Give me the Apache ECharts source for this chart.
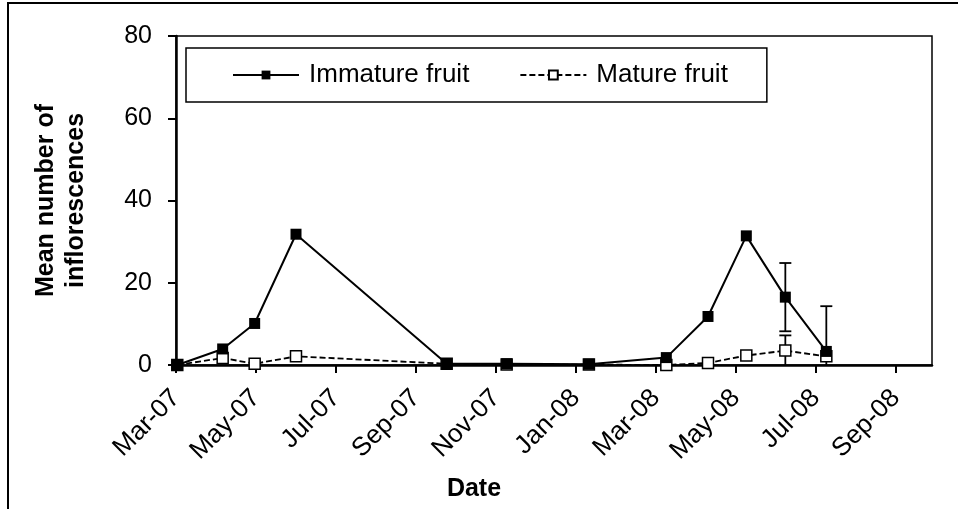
<!DOCTYPE html>
<html>
<head>
<meta charset="utf-8">
<title>Mean number of inflorescences</title>
<script src="https://cdn.jsdelivr.net/npm/echarts@6/dist/echarts.min.js"></script>
<style>
  html, body { margin: 0; padding: 0; background: #fff; }
  #chart { width: 958px; height: 509px; }
</style>
</head>
<body>
<div id="chart"></div>
<script>
// sampling dates
const sampleDates = [
  '2007-03-02', '2007-04-06', '2007-04-30', '2007-06-01', '2007-09-24', '2007-11-09',
  '2008-01-11', '2008-03-09', '2008-04-10', '2008-05-09', '2008-06-08', '2008-07-09'
]
const immature = [0, 3.9, 10.1, 31.8, 0.3, 0.3, 0.2, 1.8, 11.8, 31.4, 16.5, 3.3]
const mature = [0, 1.7, 0.3, 2.1, 0.3, 0.1, 0.1, 0, 0.5, 2.3, 3.5, 2.1]
// +/- error, only drawn where present
const immatureErr = [null, null, null, null, null, null, null, null, null, null, 8.3, 11.0]
const matureErr = [null, null, null, null, null, null, null, null, null, null, 3.7, null]
const xTickLabels = ['Mar-07', 'May-07', 'Jul-07', 'Sep-07', 'Nov-07', 'Jan-08', 'Mar-08', 'May-08', 'Jul-08', 'Sep-08']
const yTicks = [0, 20, 40, 60, 80]

// months since 1 Mar 2007 (fractional)
function toMonths(s) {
  const p = s.split('-').map(Number)
  const dim = new Date(p[0], p[1], 0).getDate()
  return (p[0] - 2007) * 12 + (p[1] - 3) + (p[2] - 1) / dim
}

const xs = sampleDates.map(toMonths)
const immData = xs.map((x, i) => [x, immature[i]])
const matData = xs.map((x, i) => [x, mature[i]])

function errData(vals, errs) {
  const out = []
  errs.forEach((e, i) => {
    if (e == null) return
    out.push([xs[i], Math.max(0, vals[i] - e), vals[i] + e, vals[i] - e >= 0 ? 1 : 0])
  })
  return out
}

function renderErr(params, api) {
  const x = api.value(0)
  const lo = api.coord([x, api.value(1)])
  const hi = api.coord([x, api.value(2)])
  const w = 6
  const style = { stroke: '#000', lineWidth: 1.8 }
  const children = [
    { type: 'line', shape: { x1: lo[0], y1: lo[1], x2: hi[0], y2: hi[1] }, style: style },
    { type: 'line', shape: { x1: hi[0] - w, y1: hi[1], x2: hi[0] + w, y2: hi[1] }, style: style }
  ]
  if (api.value(3)) {
    children.push({ type: 'line', shape: { x1: lo[0] - w, y1: lo[1], x2: lo[0] + w, y2: lo[1] }, style: style })
  }
  return { type: 'group', children: children }
}

const font = 'Liberation Sans, Arial, sans-serif'
const myChart = echarts.init(document.getElementById('chart'))
myChart.setOption({
  animation: false,
  textStyle: { fontFamily: font, color: '#000' },
  graphic: [{
    type: 'rect',
    shape: { x: 8, y: 3, width: 980, height: 540 },
    style: { fill: 'none', stroke: '#000', lineWidth: 2 },
    silent: true
  }],
  grid: {
    left: 176,
    top: 36,
    right: 26,
    bottom: 144,
    show: true,
    borderColor: '#000',
    borderWidth: 1.5
  },
  legend: {
    left: 186,
    top: 48,
    orient: 'horizontal',
    data: ['Immature fruit', 'Mature fruit'],
    itemWidth: 66,
    itemHeight: 11,
    itemGap: 50,
    padding: [14, 39, 14, 46],
    borderColor: '#000',
    borderWidth: 1.5,
    textStyle: { fontSize: 26, color: '#000', fontFamily: font, padding: [0, 0, 0, 5] }
  },
  xAxis: {
    type: 'value',
    min: 0,
    max: 18.9,
    interval: 2,
    splitLine: { show: false },
    axisLine: { lineStyle: { color: '#000', width: 2.5 } },
    axisTick: { inside: false, length: 8, lineStyle: { color: '#000', width: 2 } },
    axisLabel: {
      rotate: 45,
      margin: 29,
      fontSize: 26,
      color: '#000',
      showMaxLabel: false,
      formatter: function (v) {
        const k = Math.round(v / 2)
        return Math.abs(v - k * 2) < 1e-6 && xTickLabels[k] ? xTickLabels[k] : ''
      }
    },
    name: 'Date',
    nameLocation: 'middle',
    nameGap: 112,
    nameTextStyle: { fontSize: 25, fontWeight: 'bold', color: '#000', padding: [0, 160, 0, 0] }
  },
  yAxis: {
    type: 'value',
    min: yTicks[0],
    max: yTicks[yTicks.length - 1],
    interval: 20,
    splitLine: { show: false },
    axisLine: { lineStyle: { color: '#000', width: 2.5 } },
    axisTick: { inside: false, length: 8, lineStyle: { color: '#000', width: 2 } },
    axisLabel: { margin: 24, fontSize: 25, color: '#000' },
    name: 'Mean number of\ninflorescences',
    nameLocation: 'middle',
    nameRotate: 90,
    nameGap: 85,
    nameTextStyle: { fontSize: 25, fontWeight: 'bold', color: '#000', lineHeight: 30 }
  },
  series: [
    {
      name: 'err',
      type: 'custom',
      renderItem: renderErr,
      data: errData(immature, immatureErr).concat(errData(mature, matureErr)),
      z: 1,
      silent: true
    },
    {
      name: 'Mature fruit',
      type: 'line',
      data: matData,
      symbol: 'rect',
      symbolSize: 11,
      lineStyle: { color: '#000', width: 1.8, type: [6, 3] },
      itemStyle: { color: '#fff', borderColor: '#000', borderWidth: 1.5 },
      z: 2
    },
    {
      name: 'Immature fruit',
      type: 'line',
      data: immData,
      symbol: 'rect',
      symbolSize: 11,
      lineStyle: { color: '#000', width: 2 },
      itemStyle: { color: '#000', borderColor: '#000', borderWidth: 0 },
      z: 3
    }
  ]
})
</script>
</body>
</html>
